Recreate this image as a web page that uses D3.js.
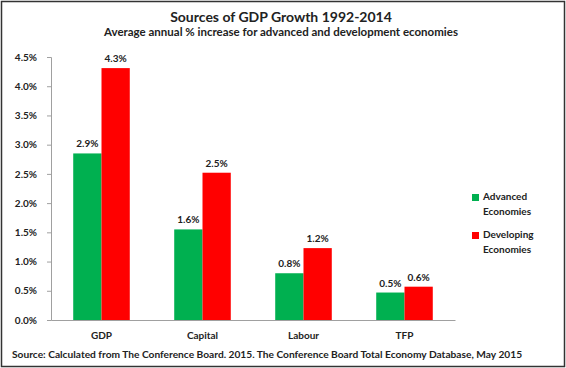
<!DOCTYPE html>
<html>
<head>
<meta charset="utf-8">
<script src="https://cdn.jsdelivr.net/npm/d3@7"></script>
<style>
  body { margin: 0; background: #fff; }
  text { font-family: Lato, "Open Sans", sans-serif; fill: #222; }
</style>
</head>
<body>
<script>
// data
const categories = ["GDP", "Capital", "Labour", "TFP"];
const seriesNames = ["Advanced Economies", "Developing Economies"];
const advanced = [2.85, 1.55, 0.8, 0.47];
const developing = [4.31, 2.52, 1.23, 0.57];
const labels = [["2.9%", "1.6%", "0.8%", "0.5%"], ["4.3%", "2.5%", "1.2%", "0.6%"]];
const yTicks = [0, 0.5, 1, 1.5, 2, 2.5, 3, 3.5, 4, 4.5];
const colors = ["#00b050", "#ff0000"];

const width = 566, height = 368;
const margin = {left: 51, right: 111, top: 57, bottom: 48};

const svg = d3.select("body").append("svg")
  .attr("width", width)
  .attr("height", height);

// frame
svg.append("rect")
  .attr("x", 1.5).attr("y", 1.5)
  .attr("width", width - 3).attr("height", height - 3)
  .attr("fill", "none")
  .attr("stroke", "#333")
  .attr("stroke-width", 1.5);

svg.append("text")
  .attr("x", 281).attr("y", 22)
  .attr("text-anchor", "middle")
  .style("font-size", "14px")
  .style("font-weight", "bold")
  .text("Sources of GDP Growth 1992-2014");

svg.append("text")
  .attr("x", 281).attr("y", 36)
  .attr("text-anchor", "middle")
  .style("font-size", "11.5px")
  .style("font-weight", "bold")
  .text("Average annual % increase for advanced and development economies");

const x = d3.scaleBand()
  .domain(categories)
  .range([margin.left, width - margin.right])
  .paddingInner(0.44)
  .paddingOuter(0.22);

const x1 = d3.scaleBand()
  .domain([0, 1])
  .range([0, x.bandwidth()]);

const y = d3.scaleLinear()
  .domain([0, 4.5])
  .range([height - margin.bottom, margin.top]);

// y axis
const yAxis = svg.append("g")
  .attr("transform", `translate(${margin.left},0)`)
  .call(d3.axisLeft(y).tickValues(yTicks).tickFormat(d => d.toFixed(1) + "%").tickSize(4).tickPadding(10));
yAxis.select(".domain").attr("stroke", "#a0a0a0");
yAxis.selectAll(".tick line").attr("stroke", "#a0a0a0");
yAxis.selectAll(".tick text")
  .style("font-size", "10px")
  .style("font-weight", "bold")
  .style("font-family", "Lato, sans-serif")
  .attr("fill", "#222");

// bars
const series = [advanced, developing];
series.forEach((vals, s) => {
  const g = svg.append("g");
  g.selectAll("rect")
    .data(vals)
    .join("rect")
    .attr("x", (d, i) => x(categories[i]) + x1(s))
    .attr("y", d => y(d))
    .attr("width", x1.bandwidth())
    .attr("height", d => y(0) - y(d))
    .attr("fill", colors[s]);
  g.selectAll("text")
    .data(vals)
    .join("text")
    .attr("x", (d, i) => x(categories[i]) + x1(s) + x1.bandwidth() / 2)
    .attr("y", d => y(d) - 6)
    .attr("text-anchor", "middle")
    .style("font-size", "10px")
    .style("font-weight", "bold")
    .text((d, i) => labels[s][i]);
});

// x axis
const xAxis = svg.append("g")
  .attr("transform", `translate(0,${y(0)})`)
  .call(d3.axisBottom(x).tickSize(0).tickPadding(12));
xAxis.select(".domain").attr("stroke", "#a0a0a0");
xAxis.selectAll(".tick text")
  .style("font-size", "10px")
  .style("font-weight", "bold")
  .style("font-family", "Lato, sans-serif")
  .attr("fill", "#222");

// legend
const legend = svg.append("g").attr("transform", "translate(472,193)");
seriesNames.forEach((name, i) => {
  const row = legend.append("g").attr("transform", `translate(0,${i * 38})`);
  row.append("rect")
    .attr("width", 7).attr("height", 7)
    .attr("y", 1)
    .attr("fill", colors[i]);
  const words = name.split(" ");
  row.append("text")
    .attr("x", 11).attr("y", 7)
    .style("font-size", "10px")
    .style("font-weight", "bold")
    .selectAll("tspan")
    .data(words)
    .join("tspan")
    .attr("x", 11)
    .attr("dy", (d, j) => j ? 15 : 0)
    .text(d => d);
});

svg.append("text")
  .attr("x", 12).attr("y", 358)
  .style("font-size", "10.2px")
  .style("font-weight", "bold")
  .text("Source: Calculated from  The Conference Board. 2015. The Conference Board Total Economy Database, May 2015");
</script>
</body>
</html>
